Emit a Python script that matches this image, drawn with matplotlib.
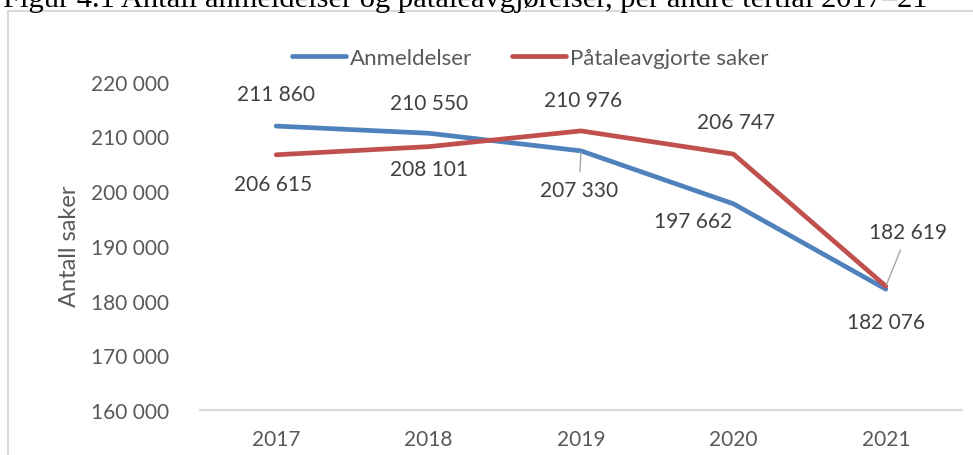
import matplotlib
matplotlib.use("Agg")
import matplotlib.pyplot as plt
from matplotlib.lines import Line2D

# ---- data ----
years = ["2017", "2018", "2019", "2020", "2021"]
anmeldelser = [211860, 210550, 207330, 197662, 182076]
paatale = [206615, 208101, 210976, 206747, 182619]
series_names = ["Anmeldelser", "Påtaleavgjorte saker"]
y_ticks = [160000, 170000, 180000, 190000, 200000, 210000, 220000]
title = "Figur 4.1 Antall anmeldelser og påtaleavgjørelser, per andre tertial 2017–21"
ylabel = "Antall saker"

# label offsets in pixels (dx, dy) and whether a leader line is drawn
blue_off = [(0, 32), (0, 30), (-2, -39), (-40, -17), (0, -33)]
blue_lead = [False, False, True, False, False]
red_off = [(-3, -29), (0, -22), (2, 31), (3, 32), (22, 54)]
red_lead = [False, False, False, False, True]

BLUE = "#4F81BD"
RED = "#C0504D"
FONT = ["Lato", "DejaVu Sans"]
plt.rcParams["font.family"] = FONT

W, H = 973, 456
fig = plt.figure(figsize=(W / 100, H / 100), dpi=100)
fig.patch.set_facecolor("white")

x0, x1 = 200, 962
ytop, ybot = 82.5, 411
ax = fig.add_axes([x0 / W, 1 - ybot / H, (x1 - x0) / W, (ybot - ytop) / H])
ax.set_facecolor("none")

xs = list(range(len(years)))
ax.plot(xs, anmeldelser, color=BLUE, lw=3.4, solid_capstyle="round",
        solid_joinstyle="round", label=series_names[0], zorder=3)
ax.plot(xs, paatale, color=RED, lw=3.4, solid_capstyle="round",
        solid_joinstyle="round", label=series_names[1], zorder=3)

ax.set_xlim(-0.5, len(years) - 0.5)
ax.set_ylim(y_ticks[0], y_ticks[-1])
ax.set_yticks(y_ticks)
ax.set_yticklabels([f"{v:,}".replace(",", " ") for v in y_ticks])
ax.set_xticks(xs)
ax.set_xticklabels(years)
ax.tick_params(axis="both", length=0, labelsize=15, labelcolor="#595959")
ax.tick_params(axis="y", pad=22)
ax.tick_params(axis="x", pad=14)
for s in ["top", "right", "left"]:
    ax.spines[s].set_visible(False)
ax.spines["bottom"].set_color("#D9D9D9")
ax.spines["bottom"].set_linewidth(1.5)

ax.set_ylabel(ylabel, fontsize=17, color="#595959", labelpad=8)


def label(vals, offs, leads):
    for i, (v, (dx, dy), lead) in enumerate(zip(vals, offs, leads)):
        kw = {}
        if lead:
            kw["arrowprops"] = dict(arrowstyle="-", color="#A6A6A6", lw=1.0,
                                    shrinkA=4, shrinkB=1)
        ax.annotate(f"{v:,}".replace(",", " "), xy=(i, v), xytext=(dx, dy),
                    textcoords="offset pixels", ha="center", va="center",
                    fontsize=15, color="#404040", zorder=4, **kw)


label(anmeldelser, blue_off, blue_lead)
label(paatale, red_off, red_lead)

fig.legend(loc="center", bbox_to_anchor=(530 / W, 1 - 59 / H), ncol=2,
           frameon=False, fontsize=16, handlelength=2.45, handletextpad=0.15,
           columnspacing=1.8, borderpad=0, labelcolor="#595959")

# chart border (light grey), partly outside the crop
fig.add_artist(Line2D([8 / W, 8 / W], [0, 1 - 12 / H], transform=fig.transFigure,
                      color="#D9D9D9", lw=1.5))
fig.add_artist(Line2D([8 / W, 1], [1 - 12 / H, 1 - 12 / H], transform=fig.transFigure,
                      color="#D9D9D9", lw=1.5))

# title, cut off at the top
t = fig.text(3 / W, 1 - 7 / H, title, family=["Liberation Serif", "DejaVu Serif"],
             fontsize=20, color="#000000", ha="left", va="baseline")
fig.canvas.draw()
bb = t.get_window_extent()
t.set_fontsize(20 * 924 / bb.width)

fig.savefig("out.png", dpi=100, facecolor="white")
